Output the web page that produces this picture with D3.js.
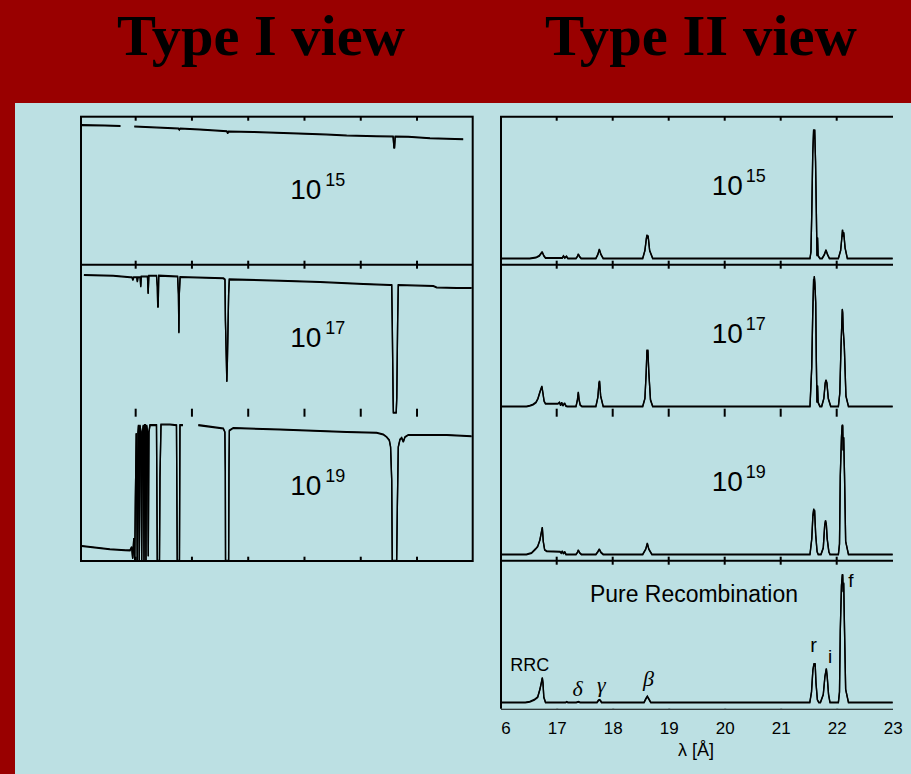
<!DOCTYPE html>
<html>
<head>
<meta charset="utf-8">
<script src="https://d3js.org/d3.v7.min.js"></script>
<style>
  html, body { margin: 0; padding: 0; background: #bce0e3; overflow: hidden; }
  svg { display: block; }
</style>
</head>
<body>
<svg id="chart" width="911" height="774"></svg>
<script>
// ---- data -------------------------------------------------------------
// wavelength axis (Angstrom)
const wavelengthTicks = [16, 17, 18, 19, 20, 21, 22, 23];
const tickLabels = ["16", "17", "18", "19", "20", "21", "22", "23"];
const columnTitles = ["Type I view", "Type II view"];
const densityExponents = ["15", "17", "19"];

// Type I: transmitted continuum (fraction of panel height), [lambda, flux]
const absorption15 = [
  [16.04, 0.943], [16.45, 0.940], [16.73, 0.937], [16.85, null], [16.975, 0.934],
  [17.373, 0.927], [17.76, 0.920], [17.775, 0.912], [17.79, 0.920], [18.14, 0.913],
  [18.62, 0.902], [18.635, 0.888], [18.65, 0.900], [19.09, 0.897], [19.89, 0.886],
  [20.39, 0.880], [20.75, 0.873], [21.28, 0.868], [21.575, 0.866], [21.59, 0.790],
  [21.60, 0.790], [21.612, 0.866], [21.845, 0.864], [22.23, 0.855], [22.82, 0.848]
];
const absorption17 = [
  [16.08, 0.930], [16.60, 0.926], [16.90, 0.915], [16.935, 0.915], [16.95, 0.895],
  [16.965, 0.915], [17.02, 0.915], [17.03, 0.884], [17.04, 0.915], [17.08, 0.915],
  [17.09, 0.850], [17.10, 0.920], [17.21, 0.920], [17.222, 0.805], [17.234, 0.926],
  [17.37, 0.926], [17.385, 0.850], [17.392, 0.716], [17.40, 0.716], [17.41, 0.926],
  [17.745, 0.920], [17.76, 0.800], [17.768, 0.540], [17.775, 0.800], [17.79, 0.917],
  [18.56, 0.908], [18.587, 0.900], [18.595, 0.620], [18.612, 0.350], [18.62, 0.210],
  [18.63, 0.350], [18.652, 0.800], [18.664, 0.901], [19.565, 0.892], [20.275, 0.883],
  [21.045, 0.870], [21.52, 0.863], [21.55, 0.863], [21.56, 0.600], [21.575, 0.100],
  [21.58, 0.0], [21.63, 0.0], [21.64, 0.100], [21.655, 0.600], [21.667, 0.863],
  [22.29, 0.856], [22.35, 0.846], [22.705, 0.843], [22.97, 0.843]
];
const absorption19 = [
  [16.04, 0.100], [16.54, 0.078], [16.81, 0.071], [16.899, 0.070], [16.929, 0.093],
  [16.947, 0.015], [16.966, 0.150], [16.984, 0.0], [16.995, 0.430], [17.01, 0.860],
  [17.028, 0.0], [17.04, 0.860], [17.05, 0.916], [17.064, 0.0], [17.076, 0.916],
  [17.094, 0.870], [17.107, 0.0], [17.12, 0.870], [17.136, 0.916], [17.148, 0.0],
  [17.16, 0.916], [17.171, 0.916], [17.183, 0.0], [17.195, 0.916], [17.211, 0.870],
  [17.224, 0.030], [17.236, 0.870], [17.254, 0.916], [17.37, 0.916], [17.384, 0.0],
  [17.423, 0.0], [17.432, 0.566], [17.45, 0.920], [17.61, 0.920], [17.725, 0.916],
  [17.739, 0.0], [17.778, 0.0], [17.787, 0.916], [17.84, 0.916], [17.98, null],
  [18.113, 0.916], [18.557, 0.893], [18.585, 0.870], [18.593, 0.600], [18.597, 0.0],
  [18.652, 0.0], [18.658, 0.600], [18.665, 0.880], [18.735, 0.897], [19.565, 0.886],
  [20.75, 0.870], [21.283, 0.864], [21.40, 0.853], [21.46, 0.836], [21.507, 0.814],
  [21.53, 0.769], [21.55, 0.544], [21.56, 0.0], [21.638, 0.0], [21.65, 0.360],
  [21.667, 0.769], [21.697, 0.819], [21.727, 0.830], [21.756, 0.803], [21.786, 0.836],
  [21.845, 0.850], [22.527, 0.850], [22.97, 0.841]
];

// Type II: line emission (relative intensity), [lambda, intensity]
const emission15 = [
  [16.00, 0], [16.52, 0], [16.63, 0.006], [16.69, 0.02], [16.74, 0.05], [16.77, 0.02],
  [16.80, 0.003], [17.10, 0.003], [17.12, 0.018], [17.145, 0.004], [17.175, 0.015], [17.20, 0],
  [17.345, 0], [17.37, 0.015], [17.386, 0.033], [17.41, 0.012], [17.435, 0],
  [17.70, 0], [17.735, 0.03], [17.761, 0.07], [17.79, 0.03], [17.83, 0],
  [18.536, 0], [18.575, 0.06], [18.60, 0.15], [18.612, 0.18], [18.622, 0.155], [18.632, 0.175],
  [18.66, 0.06], [18.714, 0],
  [21.523, 0], [21.54, 0.05], [21.555, 0.35], [21.572, 0.8], [21.588, 0.99], [21.597, 0.92],
  [21.607, 0.99], [21.622, 0.75], [21.636, 0.37], [21.648, 0.02], [21.658, 0.16], [21.668, 0.02],
  [21.70, 0], [21.74, 0], [21.78, 0.03], [21.809, 0.065], [21.835, 0.03], [21.87, 0],
  [22.03, 0], [22.07, 0.06], [22.09, 0.15], [22.104, 0.22], [22.115, 0.17], [22.125, 0.2],
  [22.15, 0.08], [22.19, 0], [23.0, 0]
];
const emission17 = [
  [16.00, 0], [16.46, 0], [16.52, 0.005], [16.58, 0.015], [16.63, 0.03], [16.665, 0.06],
  [16.70, 0.11], [16.735, 0.155], [16.755, 0.1], [16.775, 0.04], [16.80, 0.02], [17.02, 0.02],
  [17.05, 0.03], [17.07, 0.008], [17.09, 0.03], [17.11, 0.005], [17.14, 0.025], [17.165, 0.003],
  [17.19, 0],
  [17.345, 0], [17.37, 0.05], [17.386, 0.11], [17.40, 0.05], [17.42, 0.01], [17.45, 0],
  [17.70, 0], [17.735, 0.07], [17.755, 0.18], [17.765, 0.195], [17.785, 0.08], [17.83, 0],
  [18.536, 0], [18.575, 0.06], [18.598, 0.26], [18.612, 0.434], [18.62, 0.40], [18.628, 0.434],
  [18.645, 0.26], [18.675, 0.05], [18.714, 0],
  [21.523, 0], [21.554, 0.3], [21.571, 0.69], [21.588, 0.98], [21.595, 0.9], [21.60, 1.0],
  [21.61, 0.95], [21.625, 0.8], [21.636, 0.36], [21.648, 0.03], [21.658, 0.16], [21.668, 0.03],
  [21.70, 0], [21.732, 0], [21.77, 0.06], [21.795, 0.18], [21.809, 0.203], [21.825, 0.18],
  [21.85, 0.06], [21.893, 0],
  [22.03, 0], [22.055, 0.1], [22.077, 0.46], [22.10, 0.747], [22.107, 0.72], [22.115, 0.6],
  [22.136, 0.46], [22.165, 0.08], [22.21, 0], [23.0, 0]
];
const emission19 = [
  [16.00, 0], [16.46, 0], [16.55, 0.01], [16.62, 0.04], [16.66, 0.06], [16.70, 0.11],
  [16.743, 0.208], [16.76, 0.1], [16.785, 0.035], [16.82, 0.025], [17.06, 0.02],
  [17.08, 0.01], [17.10, 0.025], [17.12, 0.005], [17.145, 0.02], [17.165, 0],
  [17.345, 0], [17.37, 0.015], [17.386, 0.033], [17.41, 0.012], [17.44, 0],
  [17.70, 0], [17.735, 0.02], [17.761, 0.04], [17.79, 0.015], [17.83, 0],
  [18.536, 0], [18.59, 0.04], [18.618, 0.085], [18.645, 0.04], [18.70, 0],
  [21.523, 0], [21.555, 0.12], [21.575, 0.3], [21.59, 0.35], [21.598, 0.3], [21.605, 0.34],
  [21.625, 0.15], [21.65, 0.02], [21.67, 0],
  [21.72, 0], [21.76, 0.05], [21.785, 0.22], [21.80, 0.26], [21.815, 0.23], [21.83, 0.12],
  [21.86, 0.02], [21.88, 0],
  [22.03, 0], [22.05, 0.08], [22.064, 0.6], [22.085, 0.9], [22.097, 0.99], [22.107, 0.995],
  [22.115, 0.8], [22.125, 0.9], [22.14, 0.6], [22.16, 0.1], [22.21, 0], [23.0, 0]
];
const emissionRecomb = [
  [16.00, 0], [16.44, 0], [16.52, 0.005], [16.60, 0.02], [16.66, 0.04], [16.70, 0.1],
  [16.725, 0.15], [16.743, 0.19], [16.755, 0.15], [16.77, 0.04], [16.80, 0],
  [17.16, 0], [17.18, 0.004], [17.20, 0],
  [17.35, 0], [17.386, 0.005], [17.42, 0],
  [17.72, 0], [17.745, 0.015], [17.761, 0.02], [17.78, 0.015], [17.80, 0],
  [18.56, 0], [18.595, 0.03], [18.618, 0.046], [18.64, 0.03], [18.68, 0],
  [21.52, 0], [21.55, 0.08], [21.575, 0.25], [21.595, 0.3], [21.605, 0.28], [21.615, 0.3],
  [21.63, 0.15], [21.655, 0.02], [21.68, 0],
  [21.71, 0], [21.76, 0.06], [21.79, 0.2], [21.815, 0.26], [21.83, 0.2], [21.855, 0.06], [21.88, 0],
  [22.03, 0], [22.05, 0.08], [22.064, 0.55], [22.085, 0.9], [22.10, 0.98], [22.107, 0.98],
  [22.115, 0.85], [22.125, 0.92], [22.14, 0.55], [22.16, 0.1], [22.21, 0], [23.0, 0]
];

const lineLabels = [
  { text: "RRC", lambda: 16.743 },
  { text: "\u03b4", lambda: 17.386 },
  { text: "\u03b3", lambda: 17.761 },
  { text: "\u03b2", lambda: 18.618 },
  { text: "r", lambda: 21.60 },
  { text: "i", lambda: 21.809 },
  { text: "f", lambda: 22.107 }
];

// ---- layout -----------------------------------------------------------
const W = 911, H = 774;
const BG = "#bce0e3", BAND = "#990000", INK = "#000";
const SANS = "'Liberation Sans', Arial, Helvetica, sans-serif";
const SERIF = "'Liberation Serif', 'Times New Roman', serif";
const top0 = 116.7, panelH = 148;

const svg = d3.select("#chart");
svg.append("rect").attr("width", W).attr("height", H).attr("fill", BG);
svg.append("rect").attr("width", W).attr("height", 103).attr("fill", BAND);
svg.append("rect").attr("width", 15).attr("height", H).attr("fill", BAND);

// column titles
const titleX = [117, 545], titleW = [288, 312];
svg.selectAll("text.title").data(columnTitles).join("text")
  .attr("class", "title")
  .attr("x", (d, i) => titleX[i]).attr("y", 55)
  .attr("textLength", (d, i) => titleW[i]).attr("lengthAdjust", "spacingAndGlyphs")
  .attr("font-family", SERIF).attr("font-weight", "bold").attr("font-size", 58)
  .attr("fill", INK).text(d => d);

// scales
const xL = d3.scaleLinear().domain([16, 23]).range([79.4, 473.3]);
const xR = d3.scaleLinear().domain([16, 23]).range([500.7, 892.7]);
const panelBottom = i => top0 + panelH * (i + 1);
const yL = i => d3.scaleLinear().domain([0, 1]).range([panelBottom(i), panelBottom(i) - panelH]);
const yR = i => d3.scaleLinear().domain([0, 1]).range([panelBottom(i) - 6.3, panelBottom(i) - 136.3]);

const spectrum = (x, y) => d3.line()
  .defined(d => d[1] !== null)
  .x(d => x(d[0])).y(d => y(d[1]));

// plotter-style pen: thin vertical strokes, thicker horizontal ones
function drawSpectrum(g, data, x, y) {
  [-0.35, 0.35].forEach(off => {
    g.append("path").datum(data)
      .attr("transform", `translate(0,${off})`)
      .attr("d", spectrum(x, y))
      .attr("fill", "none").attr("stroke", INK).attr("stroke-width", 1.35)
      .attr("stroke-linejoin", "miter").attr("stroke-miterlimit", 2);
  });
}

// ---- Type I (absorption) ----------------------------------------------
const left = svg.append("g");
[absorption15, absorption17, absorption19].forEach((data, i) => drawSpectrum(left, data, xL, yL(i)));
left.append("rect")
  .attr("x", 81).attr("y", top0).attr("width", 391.7).attr("height", 3 * panelH + 0.3)
  .attr("fill", "none").attr("stroke", INK).attr("stroke-width", 2);
left.append("line")
  .attr("x1", 81).attr("x2", 472.7).attr("y1", panelBottom(0)).attr("y2", panelBottom(0))
  .attr("stroke", INK).attr("stroke-width", 2);

// ---- Type II (emission) -----------------------------------------------
const right = svg.append("g");
[emission15, emission17, emission19, emissionRecomb].forEach((data, i) => drawSpectrum(right, data, xR, yR(i)));
right.append("path")
  .attr("d", `M501,${panelBottom(3)}V${top0}H893`)
  .attr("fill", "none").attr("stroke", INK).attr("stroke-width", 2);
[0, 2].forEach(i => {
  right.append("line")
    .attr("x1", 501).attr("x2", 893).attr("y1", panelBottom(i)).attr("y2", panelBottom(i))
    .attr("stroke", INK).attr("stroke-width", 2);
});

// bottom wavelength axis, clipped to the plotting column
svg.append("clipPath").attr("id", "axisClip")
  .append("rect").attr("x", 501).attr("y", 0).attr("width", 420).attr("height", H);
const axis = d3.axisBottom(xR).tickValues(wavelengthTicks)
  .tickFormat((d, i) => tickLabels[i]).tickSizeInner(-5).tickSizeOuter(0).tickPadding(0);
const axisG = svg.append("g")
  .attr("transform", `translate(0,${panelBottom(3)})`)
  .attr("clip-path", "url(#axisClip)")
  .call(axis);
axisG.select(".domain").attr("d", "M501,0H893").attr("stroke", INK).attr("stroke-width", 2);
axisG.selectAll(".tick line").attr("stroke", INK).attr("stroke-width", 2)
  .filter(d => d === 16 || d === 23).remove();
axisG.selectAll(".tick text")
  .attr("y", 25.5).attr("dy", null).attr("text-anchor", "middle")
  .attr("font-family", SANS).attr("font-size", 17).attr("fill", INK);

svg.append("text")
  .attr("x", 696).attr("y", 756).attr("text-anchor", "middle")
  .attr("font-family", SANS).attr("font-size", 18).attr("fill", INK)
  .text("\u03bb [\u00c5]");

// tick marks on the panel edges
function ticks(xScale, y, dir) {
  const g = svg.append("g");
  const up = dir === "up" || dir === "both" ? 4 : 0;
  const down = dir === "down" || dir === "both" ? 4 : 0;
  g.selectAll("line").data(wavelengthTicks.slice(1, -1)).join("line")
    .attr("x1", d => xScale(d)).attr("x2", d => xScale(d))
    .attr("y1", y - up).attr("y2", y + down)
    .attr("stroke", INK).attr("stroke-width", 2);
}
ticks(xL, top0, "down");
ticks(xL, panelBottom(0), "both");
ticks(xL, panelBottom(1), "both");
ticks(xL, panelBottom(2), "up");
ticks(xR, top0, "down");
ticks(xR, panelBottom(0), "both");
ticks(xR, panelBottom(1), "both");
ticks(xR, panelBottom(2), "both");

// column density labels
function densityLabel(xBase, xExp, baseOff, expOff, i) {
  const t = svg.append("text").attr("font-family", SANS).attr("fill", INK);
  t.append("tspan").attr("x", xBase).attr("y", top0 + panelH * i + baseOff)
    .attr("font-size", 28).text("10");
  t.append("tspan").attr("x", xExp).attr("y", top0 + panelH * i + expOff)
    .attr("font-size", 18).text(densityExponents[i]);
}
densityExponents.forEach((d, i) => {
  densityLabel(290.3, 325.3, 81.8, 69, i);
  densityLabel(711.7, 745.7, 78, 64.8, i);
});

// pure recombination panel annotations
svg.append("text")
  .attr("x", 590).attr("y", 601.7)
  .attr("textLength", 208).attr("lengthAdjust", "spacingAndGlyphs")
  .attr("font-family", SANS).attr("font-size", 23).attr("fill", INK)
  .text("Pure Recombination");

const labelPos = {
  "RRC": { dx: -32, y: 671, size: 18, font: SANS, style: "normal" },
  "\u03b4": { dx: -5.8, y: 696, size: 22, font: SERIF, style: "italic" },
  "\u03b3": { dx: -2.3, y: 692, size: 22, font: SERIF, style: "italic" },
  "\u03b2": { dx: -4.3, y: 686, size: 22, font: SERIF, style: "italic" },
  "r": { dx: -4, y: 652, size: 20, font: SANS, style: "normal" },
  "i": { dx: 2, y: 663, size: 19, font: SANS, style: "normal" },
  "f": { dx: 5.5, y: 587, size: 19, font: SANS, style: "normal" }
};
svg.selectAll("text.line-label").data(lineLabels).join("text")
  .attr("class", "line-label")
  .attr("x", d => xR(d.lambda) + labelPos[d.text].dx)
  .attr("y", d => labelPos[d.text].y)
  .attr("font-family", d => labelPos[d.text].font)
  .attr("font-style", d => labelPos[d.text].style)
  .attr("font-size", d => labelPos[d.text].size)
  .attr("fill", INK)
  .text(d => d.text);
</script>
</body>
</html>
